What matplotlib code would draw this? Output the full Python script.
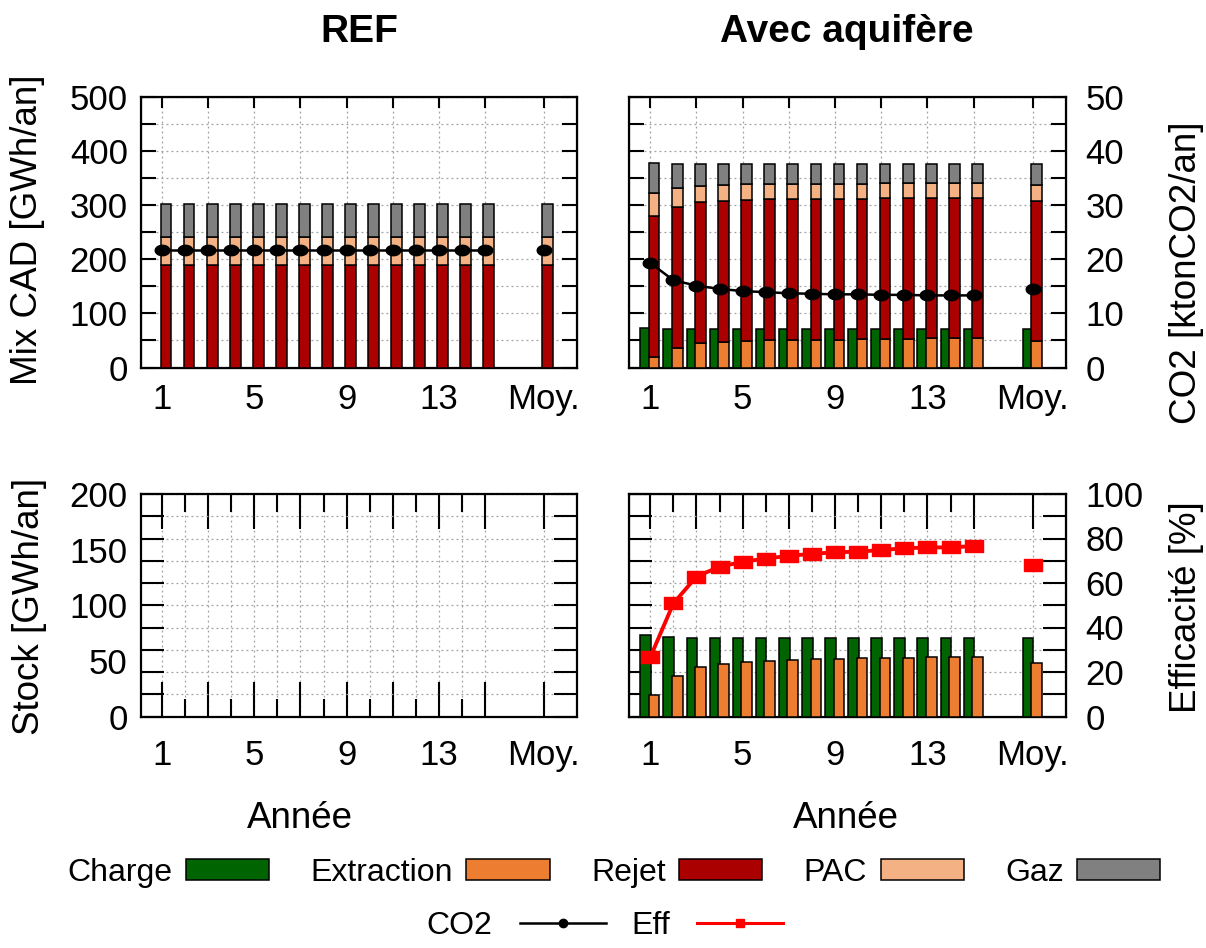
import numpy as np
import matplotlib
matplotlib.use("Agg")
import matplotlib.pyplot as plt
from matplotlib.ticker import MultipleLocator, FixedLocator
from matplotlib.lines import Line2D
from matplotlib.patches import Patch

plt.rcParams['font.family'] = ['Liberation Sans', 'DejaVu Sans']

# categories
years = [str(i) for i in range(1, 16)] + ["Moy."]
xpos = np.array(list(range(1, 16)) + [17.55])

# REF scenario (GWh/an) and CO2 (ktonCO2/an)
ref_extraction = [0] * 16
ref_rejet = [190] * 16
ref_pac = [50] * 16
ref_gaz = [62] * 16
ref_co2 = [21.6] * 16

# Avec aquifere
aq_charge = [73.5, 71.5, 71, 70.5, 70.5, 70.5, 70.5, 70.5, 70.5, 70.5, 70.5, 70.5, 70.5, 70.5, 70.5, 70.8]
aq_extraction = [19.5, 36.3, 44.6, 47.2, 49, 50, 51.2, 51.5, 51.6, 52.3, 52.8, 52.8, 53.7, 53.7, 53.7, 48.4]
aq_rejet = [260.5, 259.7, 260.4, 259.8, 260, 260, 258.8, 258.5, 258.4, 258.7, 259.2, 259.2, 258.3, 258.3, 258.3, 259.6]
aq_pac = [42, 35.5, 29.5, 29, 29, 28, 28, 28, 28.5, 27.5, 27.5, 27.5, 28, 28, 28, 28]
aq_gaz = [55, 43.5, 40.5, 39, 37, 37, 37, 37, 36.5, 36.5, 35.5, 35.5, 35, 35, 35, 39]
aq_co2 = [19.3, 16.1, 15.1, 14.5, 14.1, 13.9, 13.7, 13.6, 13.5, 13.5, 13.4, 13.4, 13.3, 13.3, 13.3, 14.4]
aq_eff = [26.6, 50.8, 62.9, 67.3, 69.5, 71, 72.2, 73.1, 73.8, 74.1, 74.8, 75.6, 76, 76, 76.6, 68.1]

c_charge = '#006400'
c_extr = '#ED7D31'
c_rejet = '#AA0000'
c_pac = '#F4B183'
c_gaz = '#808080'

t = np.linspace(0, 2 * np.pi, 41)
ellipse = list(zip(1.4 * np.cos(t), np.sin(t)))
rect = [(-1.6, -1), (1.6, -1), (1.6, 1), (-1.6, 1), (-1.6, -1)]

W, H = 1206, 948
fig = plt.figure(figsize=(W / 100, H / 100), dpi=100)

ax_tl = fig.add_axes([141 / W, 1 - 367.5 / H, 436 / W, 271 / H])
ax_tr = fig.add_axes([629 / W, 1 - 367.5 / H, 437 / W, 271 / H])
ax_bl = fig.add_axes([141 / W, 1 - 716.5 / H, 436 / W, 222.5 / H])
ax_br = fig.add_axes([629 / W, 1 - 716.5 / H, 437 / W, 222.5 / H])

xmaj = list(range(1, 16, 2)) + [17.55]
xlab = ['1', '', '5', '', '9', '', '13', '', 'Moy.']
gridkw = dict(ls=(0, (1.5, 2.5)), color='#a0a0a0', lw=0.9)
tfs = 25


def base(ax):
    ax.set_xlim(0.08, 19.0)
    ax.set_axisbelow(True)
    for s in ax.spines.values():
        s.set_linewidth(1.6)
    ax.set_xticks(xmaj)
    ax.set_xticklabels(xlab)


def style_top(ax, labels_left):
    base(ax)
    ax.set_ylim(0, 500)
    ax.yaxis.set_major_locator(MultipleLocator(100))
    ax.yaxis.set_minor_locator(MultipleLocator(50))
    ax.tick_params(axis='x', which='major', direction='in', top=True, length=8, width=1.5,
                   pad=11, labelsize=tfs)
    ax.tick_params(axis='y', which='both', direction='in', left=True, right=False,
                   length=10.8, width=1.5, pad=9.5, labelsize=tfs, labelleft=labels_left)
    ax.grid(which='major', axis='x', **gridkw)
    ax.grid(which='both', axis='y', **gridkw)


def style_bottom(ax, labels_left):
    base(ax)
    ax.set_ylim(0, 200)
    ax.xaxis.set_minor_locator(FixedLocator(list(range(2, 16, 2))))
    ax.yaxis.set_major_locator(MultipleLocator(50))
    ax.yaxis.set_minor_locator(MultipleLocator(20))
    ax.yaxis.remove_overlapping_locs = False
    ax.tick_params(axis='x', which='major', direction='in', top=True, length=25, width=1.5,
                   pad=16, labelsize=tfs)
    ax.tick_params(axis='x', which='minor', direction='in', top=True, length=13, width=1.5)
    ax.tick_params(axis='y', which='major', direction='in', length=0, pad=9.5,
                   labelsize=tfs, labelleft=labels_left)
    ax.tick_params(axis='y', which='minor', direction='in', left=True, right=False,
                   length=16.5, width=1.5)
    ax.grid(which='both', axis='x', **gridkw)
    ax.grid(which='minor', axis='y', **gridkw)


def stack(ax, extr, rejet, pac, gaz):
    xs = xpos + 0.17
    w = 0.46
    kw = dict(width=w, edgecolor='black', linewidth=1.1, zorder=3)
    b1 = ax.bar(xs, extr, color=c_extr, **kw)
    bottom = np.array(extr, dtype=float)
    b2 = ax.bar(xs, rejet, bottom=bottom, color=c_rejet, **kw)
    bottom = bottom + np.array(rejet)
    b3 = ax.bar(xs, pac, bottom=bottom, color=c_pac, **kw)
    bottom = bottom + np.array(pac)
    b4 = ax.bar(xs, gaz, bottom=bottom, color=c_gaz, **kw)
    return b1, b2, b3, b4


# --- top left : REF
style_top(ax_tl, True)
stack(ax_tl, ref_extraction, ref_rejet, ref_pac, ref_gaz)
tw_tl = ax_tl.twinx()
tw_tl.set_ylim(0, 50)
tw_tl.yaxis.set_major_locator(MultipleLocator(10))
tw_tl.yaxis.set_minor_locator(MultipleLocator(5))
tw_tl.tick_params(axis='y', which='both', direction='in', length=10.8, width=1.5, labelright=False)
tw_tl.plot(xpos[:15], ref_co2[:15], color='black', lw=1.8, marker=ellipse, ms=10.5, zorder=5)
tw_tl.plot(xpos[15:], ref_co2[15:], color='black', lw=0, marker=ellipse, ms=10.5, zorder=5)

# --- top right : Avec aquifere
style_top(ax_tr, False)
ax_tr.bar(xpos - 0.2, aq_charge, width=0.46, color=c_charge, edgecolor='black', linewidth=1.1, zorder=3)
stack(ax_tr, aq_extraction, aq_rejet, aq_pac, aq_gaz)
tw_tr = ax_tr.twinx()
tw_tr.set_ylim(0, 50)
tw_tr.yaxis.set_major_locator(MultipleLocator(10))
tw_tr.yaxis.set_minor_locator(MultipleLocator(5))
tw_tr.tick_params(axis='y', which='both', direction='in', length=10.8, width=1.5, pad=14,
                  labelsize=tfs)
tw_tr.plot(xpos[:15], aq_co2[:15], color='black', lw=1.8, marker=ellipse, ms=10.5, zorder=5)
tw_tr.plot(xpos[15:], aq_co2[15:], color='black', lw=0, marker=ellipse, ms=10.5, zorder=5)

# --- bottom left : REF stock (empty)
style_bottom(ax_bl, True)
ax_bl.tick_params(axis='y', which='minor', right=True)

# --- bottom right : stock + efficacite
style_bottom(ax_br, False)
ax_br.bar(xpos - 0.2, aq_charge, width=0.46, color=c_charge, edgecolor='black', linewidth=1.1, zorder=3)
ax_br.bar(xpos + 0.17, aq_extraction, width=0.46, color=c_extr, edgecolor='black', linewidth=1.1, zorder=3)
tw_br = ax_br.twinx()
tw_br.set_ylim(0, 100)
tw_br.yaxis.set_major_locator(MultipleLocator(20))
tw_br.yaxis.set_minor_locator(MultipleLocator(10))
tw_br.tick_params(axis='y', which='both', direction='in', length=16.5, width=1.5, pad=14,
                  labelsize=tfs)
tw_br.plot(xpos[:15], aq_eff[:15], color='red', lw=2.8, marker=rect, ms=13.5, zorder=5)
tw_br.plot(xpos[15:], aq_eff[15:], color='red', lw=0, marker=rect, ms=13.5, zorder=5)

# --- texts
fig.text(359 / W, 1 - 32 / H, 'REF', ha='center', va='center', fontsize=28, fontweight='bold')
fig.text(847 / W, 1 - 32 / H, 'Avec aquifère', ha='center', va='center', fontsize=28,
         fontweight='bold')
lfs = 26.5
fig.text(28 / W, 1 - 230 / H, 'Mix CAD [GWh/an]', rotation=90, ha='center', va='center', fontsize=lfs)
fig.text(30 / W, 1 - 606 / H, 'Stock [GWh/an]', rotation=90, ha='center', va='center', fontsize=lfs)
fig.text(1187 / W, 1 - 273 / H, 'CO2 [ktonCO2/an]', rotation=90, ha='center', va='center', fontsize=lfs)
fig.text(1187 / W, 1 - 607 / H, 'Efficacité [%]', rotation=90, ha='center', va='center', fontsize=lfs)
fig.text(300 / W, 1 - 818 / H, 'Année', ha='center', va='center', fontsize=lfs)
fig.text(846 / W, 1 - 818 / H, 'Année', ha='center', va='center', fontsize=lfs)

# --- legends
pkw = dict(edgecolor='black', linewidth=1.1)
bar_handles = [Patch(facecolor=c_charge, **pkw), Patch(facecolor=c_extr, **pkw),
               Patch(facecolor=c_rejet, **pkw), Patch(facecolor=c_pac, **pkw),
               Patch(facecolor=c_gaz, **pkw)]
fig.legend(bar_handles, ['Charge', 'Extraction', 'Rejet', 'PAC', 'Gaz'],
           loc='center', bbox_to_anchor=(614 / W, 1 - 873 / H), ncol=5, frameon=False,
           markerfirst=False, fontsize=23, handlelength=2.6, handleheight=0.64,
           handletextpad=0.42, columnspacing=1.3, borderpad=0)
line_handles = [Line2D([], [], color='black', lw=1.8, marker='o', ms=6),
                Line2D([], [], color='red', lw=2.2, marker='s', ms=6)]
fig.legend(line_handles, ['CO2', 'Eff'], loc='center', bbox_to_anchor=(605 / W, 1 - 926 / H),
           ncol=2, frameon=False, markerfirst=False, fontsize=23, handlelength=2.7,
           handletextpad=0.85, columnspacing=0.8, borderpad=0)

fig.savefig('out.png', dpi=100)
